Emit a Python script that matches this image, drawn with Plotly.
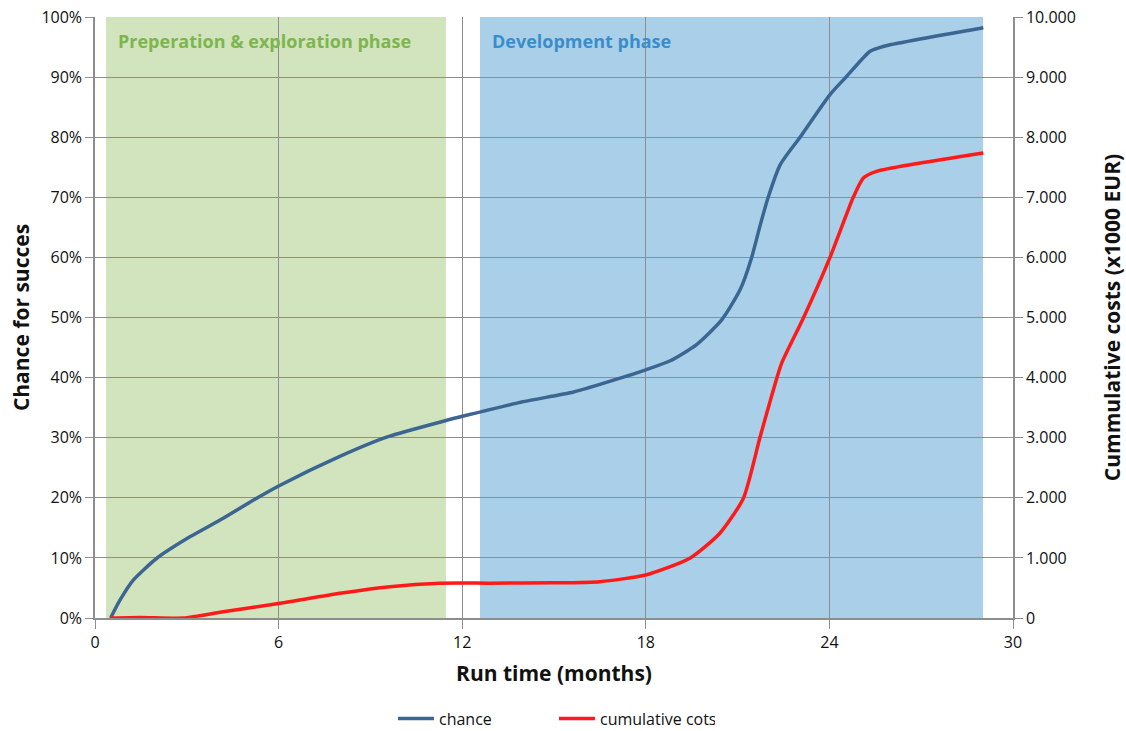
import plotly.graph_objects as go

# Run time (months) and chance for success
chance_months = [0.51, 0.82, 1.25, 2.01, 3.1, 4.19, 5.17, 6.05, 8.0, 9.53, 11.5, 12.04,
                 14.0, 15.64, 17.16, 18.0, 18.8, 19.66, 20.48, 21.08, 21.46, 21.73,
                 22.0, 22.39, 23.04, 24.02, 24.56, 25.33, 25.76, 29.03]
chance_pct = [0.0, 3.0, 6.3, 9.9, 13.5, 16.6, 19.6, 22.1, 26.9, 30.1, 32.9, 33.6,
              36.0, 37.6, 39.9, 41.3, 42.8, 45.5, 49.6, 54.6, 60.0, 65.2,
              70.0, 75.4, 80.0, 87.1, 90.1, 94.3, 95.1, 98.2]

# Cumulative costs (x1000 EUR)
cost_months = [0.51, 1.47, 2.89, 4.19, 6.05, 8.0, 9.64, 11.27, 12.9, 15.0, 16.5, 18.0,
               19.44, 20.42, 21.19, 21.73, 22.17, 22.44, 23.15, 24.02, 24.78, 25.11,
               25.54, 29.03]
cost_keur = [0, 10, 0, 105, 245, 411, 521, 578, 580, 585, 605, 716,
             993, 1410, 1993, 3003, 3797, 4241, 4991, 6000, 7000, 7322,
             7432, 7738]

# Project phases: (label, start month, end month, fill, text colour)
phases = [
    ("Preperation & exploration phase", 0.36, 11.47, "#D1E4BD", "#7DB54E"),
    ("Development phase", 12.58, 29.02, "#A9D0E8", "#3A8DCC"),
]

x_ticks = [0, 6, 12, 18, 24, 30]

FONT = "'Open Sans', Lato, sans-serif"
GRID = "#8E8E8E"

fig = go.Figure()

fig.add_trace(go.Scatter(
    x=chance_months, y=[v / 100 for v in chance_pct], name="chance",
    mode="lines", line=dict(color="#3C6592", width=3.5, shape="spline", smoothing=0.6),
    yaxis="y",
))
fig.add_trace(go.Scatter(
    x=cost_months, y=cost_keur, name="cumulative cots",
    mode="lines", line=dict(color="#FF1A1A", width=3.5, shape="spline", smoothing=0.6),
    yaxis="y2",
))

for label, x0, x1, fill, tcol in phases:
    fig.add_shape(type="rect", xref="x", yref="paper", x0=x0, x1=x1, y0=0, y1=1,
                  fillcolor=fill, line=dict(width=0), layer="below")
    fig.add_annotation(x=x0, xref="x", xanchor="left", xshift=10,
                       y=0.96, yref="paper", yanchor="middle",
                       text=f"<b>{label}</b>", showarrow=False,
                       font=dict(family=FONT, size=18, color=tcol))

fig.update_layout(
    width=1126, height=731,
    margin=dict(l=95, r=113, t=17, b=113),
    paper_bgcolor="white", plot_bgcolor="white",
    separators=",.",
    font=dict(family=FONT, size=16, color="#111111"),
    xaxis=dict(
        range=[0, 30], tickvals=x_ticks, showgrid=True, gridcolor=GRID, gridwidth=1,
        showline=True, linecolor=GRID, linewidth=1.5, ticks="outside", ticklen=9,
        tickcolor=GRID, zeroline=False, automargin=False,
        title=dict(text="<b>Run time (months)</b>", font=dict(size=21), standoff=14),
    ),
    yaxis=dict(
        range=[0, 1], dtick=0.1, tickformat=".0%", showgrid=True, gridcolor=GRID,
        gridwidth=1, showline=True, linecolor=GRID, linewidth=1.5, ticks="outside",
        ticklen=8, tickcolor=GRID, zeroline=False, automargin=False,
        title=dict(text="<b>Chance for succes</b>", font=dict(size=21), standoff=6),
    ),
    yaxis2=dict(
        range=[0, 10000], dtick=1000, tickformat=",d", overlaying="y", side="right",
        showgrid=False, showline=True, linecolor=GRID, linewidth=1.5, ticks="outside",
        ticklen=8, tickcolor=GRID, zeroline=False, automargin=False,
        title=dict(text="<b>Cummulative costs (x1000 EUR)</b>", font=dict(size=21),
                   standoff=39),
    ),
    legend=dict(
        orientation="h", xref="container", yref="container",
        x=0.349, xanchor="left", y=0.017, yanchor="middle",
        font=dict(size=16), entrywidth=110, itemwidth=36,
    ),
)

fig.write_html("out.html")
